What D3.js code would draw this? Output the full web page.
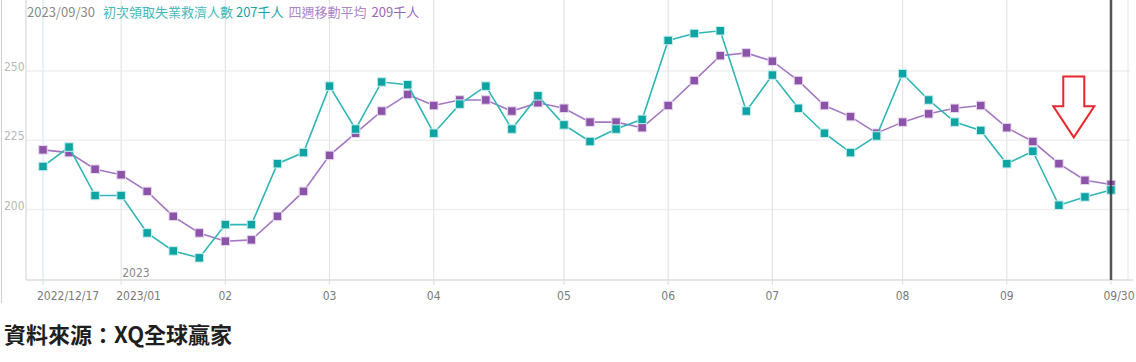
<!DOCTYPE html>
<html><head><meta charset="utf-8">
<script src="https://cdn.jsdelivr.net/npm/d3@7"></script>
<style>
html,body{margin:0;padding:0;background:#fff;}
svg{display:block;}
</style></head>
<body>
<svg id="c" width="1136" height="362"></svg>
<script>
// ---------- data ----------
const dates = ["2022-12-17","2022-12-24","2022-12-31","2023-01-07","2023-01-14","2023-01-21","2023-01-28",
  "2023-02-04","2023-02-11","2023-02-18","2023-02-25","2023-03-04","2023-03-11","2023-03-18","2023-03-25",
  "2023-04-01","2023-04-08","2023-04-15","2023-04-22","2023-04-29","2023-05-06","2023-05-13","2023-05-20",
  "2023-05-27","2023-06-03","2023-06-10","2023-06-17","2023-06-24","2023-07-01","2023-07-08","2023-07-15",
  "2023-07-22","2023-07-29","2023-08-05","2023-08-12","2023-08-19","2023-08-26","2023-09-02","2023-09-09",
  "2023-09-16","2023-09-23","2023-09-30"];
const initialClaims = [215.5,222.5,205,205,191.5,185,182.5,194.5,194.5,216.5,220.5,244.5,229,246,245,
  227.5,238,244.5,229,241,230.5,224.5,229,232.5,261,263.5,264.5,235.5,248.5,236.5,227.5,220.5,226.5,
  249,239.5,231.5,228.5,216.5,221,201.5,204.5,207];
const movingAvg = [221.5,220.5,214.5,212.5,206.5,197.5,191.5,188.5,189,197.5,206.5,219.5,227.5,235.5,
  241.5,237.5,239.5,239.5,235.5,238.5,236.5,231.5,231.5,229.5,237.5,246.5,255.5,256.5,253.5,246.5,
  237.5,233.5,227.5,231.5,234.5,236.5,237.5,229.5,224.5,216.5,210.5,209];
const yTicks = [200, 225, 250];
const tickDates = ["2022-12-17","2023-01-07","2023-02-04","2023-03-04","2023-04-01","2023-05-06",
  "2023-06-03","2023-07-01","2023-08-05","2023-09-02","2023-09-30"];
const tickLabels = ["2022/12/17","2023/01","02","03","04","05","06","07","08","09","09/30"];
const titleDate = "2023/09/30";
const seriesNames = ["初次領取失業救濟人數","四週移動平均"];
const seriesLast = ["207千人","209千人"];
const yearLabel = "2023";
const sourceText = "資料來源：XQ全球贏家";
const arrowDate = "2023-09-20", arrowTop = 248, arrowTip = 226;

// ---------- layout ----------
const W = 1136, H = 362;
const plot = {l: 26, r: 1130, t: 0, b: 280};
const parse = d3.timeParse("%Y-%m-%d");
const svg = d3.select("#c");
const narrow = "'Liberation Sans Narrow','DejaVu Sans Condensed',sans-serif";

const x = d3.scaleTime().domain([parse(dates[0]), parse(dates[dates.length-1])]).range([43, 1111]);
const y = d3.scaleLinear().domain([174.5, 275.6]).range([plot.b, plot.t]);

const C = {tealLine:"#30b6b6", tealMark:"#0ea4a4", tealHalo:"#c9ecec",
           purLine:"#a477c2", purMark:"#8c54a8", purHalo:"#e6d6ee"};

// outer left border
svg.append("line").attr("x1",1.5).attr("x2",1.5).attr("y1",0).attr("y2",303)
  .attr("stroke","#d0d0d0").attr("stroke-width",1);

// horizontal grid
svg.append("g").selectAll("line").data(yTicks).join("line")
  .attr("x1",plot.l).attr("x2",plot.r).attr("y1",d=>y(d)).attr("y2",d=>y(d))
  .attr("stroke","#efefef").attr("stroke-width",1.5);

// vertical grid (month ticks)
svg.append("g").selectAll("line").data(tickDates).join("line")
  .attr("x1",d=>x(parse(d))).attr("x2",d=>x(parse(d)))
  .attr("y1",plot.t).attr("y2",plot.b+5)
  .attr("stroke",(d,i)=> i===0 ? "#d4eaf7" : "#e4e4e4").attr("stroke-width",1.2);

// frame
svg.append("line").attr("x1",plot.l).attr("x2",plot.l).attr("y1",0).attr("y2",plot.b)
  .attr("stroke","#d8d8d8").attr("stroke-width",1.2);
svg.append("line").attr("x1",plot.r-2).attr("x2",plot.r-2).attr("y1",0).attr("y2",plot.b)
  .attr("stroke","#e6e6e6").attr("stroke-width",1);
svg.append("line").attr("x1",plot.l).attr("x2",1133).attr("y1",plot.b).attr("y2",plot.b)
  .attr("stroke","#dcdcdc").attr("stroke-width",1.5);

// y labels
svg.append("g").selectAll("text").data(yTicks).join("text")
  .attr("x",4).attr("y",d=>y(d)-4).attr("dy","0.35em")
  .attr("font-family",narrow).attr("font-size",12).attr("fill","#b8b8b8").text(d=>d);

// x labels
const xdx = [-6,-5,0,0,0,0,0,0,0,0,8];
const xanc = ["start","start","middle","middle","middle","middle","middle","middle","middle","middle","middle"];
svg.append("g").selectAll("text").data(tickDates).join("text")
  .attr("x",d=>x(parse(d))).attr("dx",(d,i)=>xdx[i]).attr("y",300)
  .attr("text-anchor",(d,i)=>xanc[i])
  .attr("font-family",narrow).attr("font-size",12).attr("fill","#7a7a7a")
  .text((d,i)=>tickLabels[i]);

// year label
svg.append("text").attr("x",x(parse(tickDates[1]))+1).attr("y",277)
  .attr("font-family",narrow).attr("font-size",12).attr("fill","#888").text(yearLabel);

// series
function drawSeries(vals, line, mark, halo){
  const pts = dates.map((d,i)=>({x:x(parse(d)), y:y(vals[i])}));
  svg.append("path").datum(pts)
    .attr("d", d3.line().x(p=>p.x).y(p=>p.y))
    .attr("fill","none").attr("stroke",line).attr("stroke-width",1.6);
  const s = 8.5;
  svg.append("g").selectAll("rect").data(pts).join("rect")
    .attr("x",p=>p.x-s/2).attr("y",p=>p.y-s/2).attr("width",s).attr("height",s)
    .attr("fill",mark).attr("stroke",halo).attr("stroke-width",1);
}
drawSeries(movingAvg, C.purLine, C.purMark, C.purHalo);
drawSeries(initialClaims, C.tealLine, C.tealMark, C.tealHalo);

// current date marker line
const xe = x(parse(dates[dates.length-1]));
svg.append("line").attr("x1",xe).attr("x2",xe).attr("y1",0).attr("y2",plot.b)
  .attr("stroke","#3a3a3a").attr("stroke-opacity",0.85).attr("stroke-width",2.5);

// red arrow annotation
const ax = x(parse(arrowDate)), at = y(arrowTop), ap = y(arrowTip);
const sw = 10.5, hw = 20.5, headH = 31;
const arrowPath = [[ax-sw,at],[ax+sw,at],[ax+sw,ap-headH],[ax+hw,ap-headH],[ax,ap],
  [ax-hw,ap-headH],[ax-sw,ap-headH]];
svg.append("path").attr("d", d3.line()(arrowPath)+"Z")
  .attr("fill","none").attr("stroke","#e8262b").attr("stroke-width",2).attr("stroke-linejoin","miter");

// title
const title = svg.append("text").attr("x",27).attr("y",17)
  .attr("font-family","'Liberation Sans Narrow','Noto Sans CJK TC',sans-serif").attr("font-size",13);
title.append("tspan").attr("fill","#8a8a8a").text(titleDate);
title.append("tspan").attr("dx",8).attr("fill","#43b9b9").text(seriesNames[0]);
title.append("tspan").attr("dx",3).attr("fill","#17a3a3").text(seriesLast[0]);
title.append("tspan").attr("dx",5).attr("fill","#ad85c8").text(seriesNames[1]);
title.append("tspan").attr("dx",5).attr("fill","#9a66bb").text(seriesLast[1]);

// source
svg.append("text").attr("x",4).attr("y",343)
  .attr("font-family","'Noto Sans CJK TC',sans-serif").attr("font-size",22).attr("font-weight",700)
  .attr("fill","#1e1e1e").text(sourceText);
</script>
</body></html>
